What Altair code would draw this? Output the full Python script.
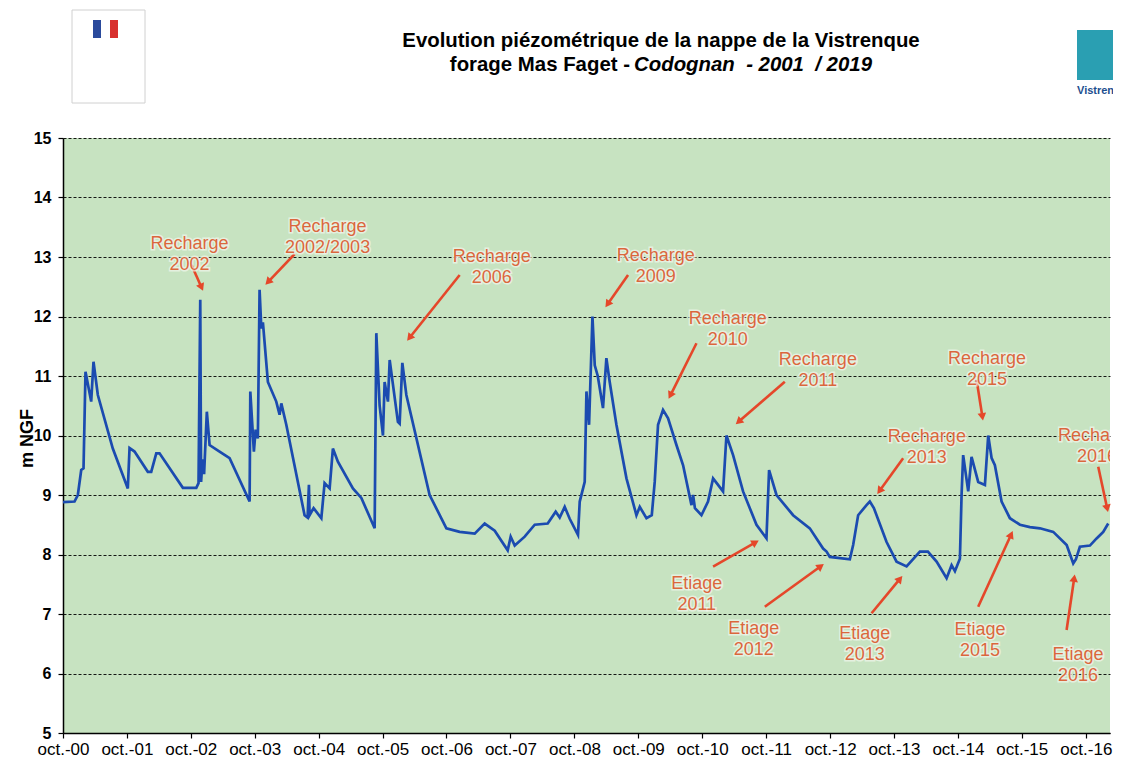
import math
import altair as alt
import pandas as pd

# ---------------- data ----------------
# decimal year (x) and water level in m NGF (y)
dec_year = [
    2000.75, 2000.93, 2000.982, 2001.035, 2001.071, 2001.102, 2001.191, 2001.227, 2001.295, 2001.529,
    2001.764, 2001.791, 2001.869, 2002.077, 2002.13, 2002.209, 2002.26, 2002.625, 2002.835, 2002.87,
    2002.897, 2002.91, 2002.933, 2002.957, 2003.0, 2003.043, 2003.199, 2003.356, 2003.669, 2003.68,
    2003.736, 2003.763, 2003.798, 2003.825, 2003.852, 2003.877, 2003.955, 2004.086, 2004.138, 2004.165,
    2004.243, 2004.529, 2004.576, 2004.597, 2004.607, 2004.67, 2004.791, 2004.842, 2004.921, 2004.972,
    2005.05, 2005.285, 2005.417, 2005.625, 2005.651, 2005.703, 2005.755, 2005.781, 2005.833, 2005.86,
    2005.989, 2006.016, 2006.058, 2006.121, 2006.485, 2006.747, 2006.955, 2007.19, 2007.346, 2007.503,
    2007.706, 2007.753, 2007.816, 2007.972, 2008.129, 2008.332, 2008.457, 2008.52, 2008.598, 2008.676,
    2008.806, 2008.833, 2008.911, 2008.938, 2008.979, 2009.0, 2009.032, 2009.068, 2009.115, 2009.197,
    2009.25, 2009.302, 2009.407, 2009.564, 2009.72, 2009.772, 2009.877, 2009.96, 2010.006, 2010.058,
    2010.136, 2010.215, 2010.346, 2010.45, 2010.581, 2010.606, 2010.635, 2010.737, 2010.84, 2010.919,
    2011.075, 2011.128, 2011.232, 2011.388, 2011.598, 2011.754, 2011.795, 2011.911, 2012.171, 2012.432,
    2012.64, 2012.694, 2012.745, 2013.058, 2013.11, 2013.188, 2013.319, 2013.371, 2013.434, 2013.633,
    2013.789, 2013.946, 2014.154, 2014.279, 2014.415, 2014.572, 2014.65, 2014.702, 2014.78, 2014.806,
    2014.831, 2014.91, 2014.962, 2015.066, 2015.171, 2015.223, 2015.276, 2015.327, 2015.432, 2015.562,
    2015.719, 2015.875, 2016.032, 2016.24, 2016.45, 2016.553, 2016.595, 2016.657, 2016.814, 2016.918,
    2017.022, 2017.1,
]
level = [
    8.88, 8.89, 9.0, 9.42, 9.45, 11.07, 10.57, 11.24, 10.68, 9.78,
    9.11, 9.79, 9.73, 9.39, 9.39, 9.70, 9.70, 9.12, 9.12, 9.2,
    12.28, 9.22, 9.6, 9.35, 10.4, 9.84, 9.73, 9.62, 8.89, 10.74,
    9.73, 10.1, 9.95, 12.45, 11.8, 11.9, 10.9, 10.57, 10.35, 10.54,
    10.18, 8.66, 8.62, 9.17, 8.66, 8.78, 8.61, 9.2, 9.11, 9.78,
    9.56, 9.11, 8.95, 8.44, 11.72, 10.5, 10.0, 10.9, 10.57, 11.27,
    10.23, 10.2, 11.22, 10.68, 9.0, 8.44, 8.38, 8.35, 8.52, 8.4,
    8.07, 8.3, 8.15, 8.3, 8.5, 8.52, 8.72, 8.62, 8.8, 8.6,
    8.33, 8.89, 9.22, 10.74, 10.18, 10.9, 12.0, 11.18, 11.0, 10.46,
    11.3, 10.9, 10.18, 9.28, 8.66, 8.80, 8.61, 8.66, 9.22, 10.18,
    10.43, 10.29, 9.84, 9.50, 8.83, 9.0, 8.78, 8.66, 8.89, 9.28,
    9.06, 10.0, 9.67, 9.06, 8.50, 8.27, 9.42, 9.0, 8.66, 8.44,
    8.10, 8.05, 7.96, 7.92, 8.16, 8.66, 8.83, 8.89, 8.78, 8.21,
    7.88, 7.80, 8.05, 8.05, 7.88, 7.60, 7.82, 7.72, 7.93, 9.0,
    9.67, 9.06, 9.64, 9.22, 9.17, 10.0, 9.62, 9.5, 8.89, 8.61,
    8.50, 8.46, 8.44, 8.38, 8.16, 7.85, 7.92, 8.13, 8.15, 8.27,
    8.38, 8.52,
]

# annotations: label, text centre, arrow start, arrow tip (decimal year, m NGF)
ann_label = [
    "Recharge\n2002", "Recharge\n2002/2003", "Recharge\n2006", "Recharge\n2009",
    "Recharge\n2010", "Recharge\n2011", "Recharge\n2013", "Recharge\n2015", "Recharge\n2016",
    "Etiage\n2011", "Etiage\n2012", "Etiage\n2013", "Etiage\n2015", "Etiage\n2016",
]
ann_text_x = [2002.73, 2004.889, 2007.456, 2010.022, 2011.149, 2012.558, 2014.263, 2015.203, 2016.924,
              2010.664, 2011.556, 2013.293, 2015.093, 2016.626]
ann_text_y = [13.22, 13.496, 13.0, 13.025, 11.958, 11.269, 9.983, 11.294, 9.992,
              7.496, 6.756, 6.672, 6.723, 6.303]
arrow_from_x = [2002.761, 2004.373, 2006.955, 2009.589, 2010.659, 2012.041, 2013.892, 2015.041, 2016.944,
                2010.919, 2011.728, 2013.398, 2015.066, 2016.449]
arrow_from_y = [12.866, 13.05, 12.697, 12.697, 11.55, 10.904, 9.617, 10.933, 9.476,
                7.795, 7.123, 7.012, 7.123, 6.731]
arrow_to_x = [2002.949, 2003.903, 2006.121, 2009.224, 2010.215, 2011.259, 2013.476, 2015.144, 2017.1,
              2011.65, 2012.667, 2013.892, 2015.614, 2016.579]
arrow_to_y = [12.412, 12.518, 11.576, 12.138, 10.597, 10.176, 9.0, 10.232, 8.692,
              8.244, 7.852, 7.655, 8.412, 7.684]

y_ticks = list(range(5, 16))
x_tick_years = list(range(2000, 2017))

title_1 = "Evolution piézométrique de la nappe de la Vistrenque"
title_2a = "forage Mas Faget - "
title_2b = "Codognan\u00a0\u00a0- 2001\u00a0\u00a0/ 2019"

# ---------------- layout / style ----------------
W, H = 1047, 595
X0, X1 = 2000.75, 2017.127
PX_YEAR = W / (X1 - X0)
PX_M = H / 10.0
FONT = "Liberation Sans"
GREEN = "#c7e3c1"
BLUE = "#1b4bb0"
TXT = "#da673c"
ARROW = "#e5472a"

ORIGIN = pd.Timestamp("2000-10-01")


def to_iso(dy):
    ts = ORIGIN + pd.to_timedelta((dy - 2000.75) * 365.25, unit="D")
    return ts.strftime("%Y-%m-%dT%H:%M:%S")


series = pd.DataFrame({"date": [to_iso(d) for d in dec_year], "level": level})

rows = []
for i, lab in enumerate(ann_label):
    dx = (arrow_to_x[i] - arrow_from_x[i]) * PX_YEAR
    dy = -(arrow_to_y[i] - arrow_from_y[i]) * PX_M
    L = math.hypot(dx, dy)
    ux, uy = dx / L, dy / L
    ang = math.degrees(math.atan2(ux, -uy)) % 360
    head_x = arrow_to_x[i] - 5 * ux / PX_YEAR
    head_y = arrow_to_y[i] + 5 * uy / PX_M
    end_x = arrow_to_x[i] - 8 * ux / PX_YEAR
    end_y = arrow_to_y[i] + 8 * uy / PX_M
    rows.append({
        "label": lab,
        "tx": to_iso(ann_text_x[i]), "ty": ann_text_y[i],
        "fx": to_iso(arrow_from_x[i]), "fy": arrow_from_y[i],
        "ex": to_iso(end_x), "ey": end_y,
        "hx": to_iso(head_x), "hy": head_y,
        "ang": ang,
    })
ann = pd.DataFrame(rows)

x_scale = alt.Scale(domain=[alt.DateTime(year=2000, month=10, date=1),
                            alt.DateTime(year=2017, month=2, date=16)])
y_scale = alt.Scale(domain=[5, 15], nice=False, zero=False)

x_axis = alt.Axis(
    values=[alt.DateTime(year=y, month=10, date=1) for y in x_tick_years],
    labelExpr="'oct.-' + timeFormat(datum.value, '%y')",
    title=None, grid=False, domainColor="black", domainWidth=1.5,
    tickColor="black", tickSize=5, tickWidth=1.2,
    labelFont="Liberation Sans Narrow, Liberation Sans", labelFontSize=17,
    labelColor="black", labelPadding=3, labelOverlap=False, labelFlush=False,
)
y_axis = alt.Axis(
    values=y_ticks, format="d", title="m NGF", grid=True, gridColor="black", gridDash=[3, 2],
    gridWidth=1, gridOpacity=0.9, domainColor="black", domainWidth=1.5,
    tickColor="black", tickSize=5, tickWidth=1.2,
    labelFont=FONT, labelFontSize=16, labelFontWeight="bold", labelColor="black",
    labelPadding=7, titleFont=FONT, titleFontSize=18, titleFontWeight="bold",
    titleColor="black", titleX=-36, titleY=300, titleAngle=270, titleBaseline="middle",
    titleAlign="center",
)

line = alt.Chart(series).mark_line(color=BLUE, strokeWidth=2.7, clip=True).encode(
    x=alt.X("date:T", scale=x_scale, axis=x_axis),
    y=alt.Y("level:Q", scale=y_scale, axis=y_axis),
)

arrows = alt.Chart(ann).mark_rule(color=ARROW, strokeWidth=2.6).encode(
    x="fx:T", y="fy:Q", x2="ex:T", y2="ey:Q",
)
heads = alt.Chart(ann).mark_point(shape="triangle-up", filled=True, color=ARROW,
                                  opacity=1, size=75).encode(
    x="hx:T", y="hy:Q", angle=alt.Angle("ang:Q", scale=None),
)
halo = alt.Chart(ann).mark_text(
    font=FONT, fontSize=18, lineBreak="\n", lineHeight=21, align="center",
    baseline="middle", color="#f2f7ee", stroke="#f2f7ee", strokeWidth=3,
    strokeOpacity=0.7, clip=True,
).encode(x="tx:T", y="ty:Q", text="label:N")
labels = alt.Chart(ann).mark_text(
    font=FONT, fontSize=18, lineBreak="\n", lineHeight=21, align="center",
    baseline="middle", color=TXT, clip=True,
).encode(x="tx:T", y="ty:Q", text="label:N")

one = pd.DataFrame({"a": [0]})
TFS = 20.4
t1 = alt.Chart(one).mark_text(font=FONT, fontSize=TFS, fontWeight="bold", color="black",
                              align="center", baseline="alphabetic").encode(
    x=alt.value(598), y=alt.value(-91), text=alt.value(title_1))
t2a = alt.Chart(one).mark_text(font=FONT, fontSize=TFS, fontWeight="bold", color="black",
                               align="right", baseline="alphabetic").encode(
    x=alt.value(567), y=alt.value(-67), text=alt.value(title_2a))
t2b = alt.Chart(one).mark_text(font=FONT, fontSize=TFS, fontWeight="bold", fontStyle="italic",
                               color="black", align="left", baseline="alphabetic").encode(
    x=alt.value(571), y=alt.value(-67), text=alt.value(title_2b))

# simple logo placeholders
logo_box = alt.Chart(one).mark_rect(fill="white", stroke="#d0d0d0", strokeWidth=1).encode(
    x=alt.value(9), x2=alt.value(82), y=alt.value(-128), y2=alt.value(-35))
flag_b = alt.Chart(one).mark_rect(fill="#2a4a9c").encode(
    x=alt.value(30), x2=alt.value(38), y=alt.value(-118), y2=alt.value(-100))
flag_r = alt.Chart(one).mark_rect(fill="#d8302e").encode(
    x=alt.value(47), x2=alt.value(55), y=alt.value(-118), y2=alt.value(-100))
logo_r = alt.Chart(one).mark_rect(fill="#2a9fb2").encode(
    x=alt.value(1014), x2=alt.value(1052), y=alt.value(-108), y2=alt.value(-58))
logo_rt = alt.Chart(one).mark_text(font=FONT, fontSize=11, fontWeight="bold", color="#1d4f8f",
                                   align="left", baseline="alphabetic").encode(
    x=alt.value(1014), y=alt.value(-44), text=alt.value("Vistrenque"))

chart = alt.layer(
    line, arrows, heads, halo, labels, t1, t2a, t2b,
    logo_box, flag_b, flag_r, logo_r, logo_rt,
).properties(
    width=W, height=H,
    padding={"left": 55, "top": 130, "right": 3, "bottom": 24},
    autosize=alt.AutoSizeParams(type="none"),
    background="white",
).configure_view(fill=GREEN, stroke=None)

chart.save("out.html", embed_options={"renderer": "svg", "actions": False})
